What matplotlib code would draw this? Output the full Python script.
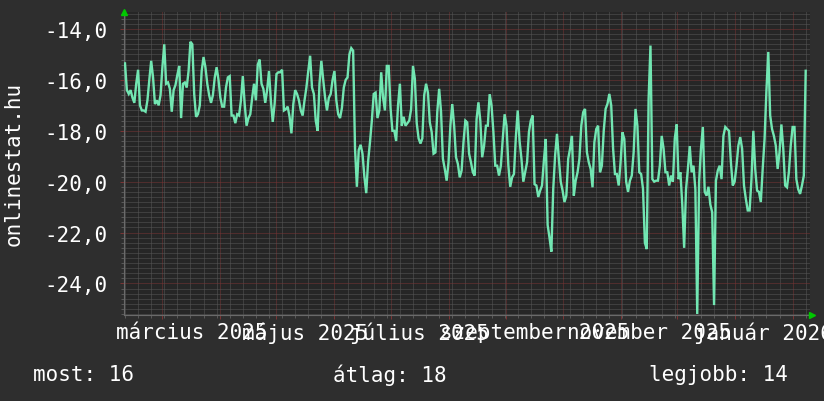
import matplotlib
matplotlib.use("Agg")
import matplotlib.pyplot as plt
import matplotlib.dates as mdates
import matplotlib.transforms as mtransforms
from matplotlib.ticker import MultipleLocator, FixedLocator, NullFormatter
import pandas as pd
import numpy as np

# ---------------- data ----------------
start_date = "2025-02-09"
rank_values = [
    -15.35, -16.4, -16.55, -16.4, -16.7, -16.9, -16.15,
    -15.6, -17.0, -17.2, -17.2, -17.25, -16.8, -16.0,
    -15.25, -15.9, -16.95, -16.8, -17.0, -16.6, -15.5,
    -14.6, -16.15, -16.1, -16.35, -17.25, -16.4, -16.2,
    -15.8, -15.45, -17.5, -16.15, -16.1, -16.3, -15.65,
    -14.5, -14.6, -16.55, -17.45, -17.35, -17.0, -15.65,
    -15.1, -15.5, -16.15, -16.6, -16.9, -16.6, -15.9,
    -15.5, -16.0, -16.7, -17.05, -17.05, -16.3, -15.9,
    -15.85, -17.4, -17.4, -17.7, -17.35, -17.4, -16.8,
    -15.85, -16.95, -17.8, -17.5, -17.35, -16.7, -16.15,
    -16.8, -15.4, -15.2, -16.15, -16.35, -16.9, -16.4,
    -15.65, -16.8, -17.65, -16.95, -15.77, -15.7, -15.7,
    -15.6, -17.2, -17.15, -17.05, -17.45, -18.1, -16.95,
    -16.4, -16.55, -16.8, -17.2, -17.4, -16.8, -16.3,
    -15.65, -15.05, -16.3, -16.55, -17.6, -18.0, -16.15,
    -15.25, -16.0, -16.7, -17.2, -16.7, -16.55, -16.0,
    -15.65, -16.8, -17.35, -17.5, -17.1, -16.3, -16.0,
    -15.9, -15.0, -14.75, -14.85, -18.7, -20.2, -18.75,
    -18.55, -18.9, -19.8, -20.45, -19.2, -18.45, -17.6,
    -16.55, -16.5, -17.5, -17.2, -15.7, -16.7, -17.2,
    -15.45, -15.45, -17.1, -18.0, -18.0, -18.4, -17.0,
    -16.15, -17.8, -17.45, -17.8, -17.7, -17.6, -17.15,
    -15.45, -15.96, -17.7, -18.3, -18.5, -18.3, -16.6,
    -16.15, -16.5, -17.67, -18.05, -18.9, -18.85, -17.25,
    -16.35, -17.25, -19.1, -19.5, -19.96, -19.24, -17.8,
    -16.95, -17.8, -19.04, -19.3, -19.83, -19.56, -18.45,
    -17.6, -17.67, -18.9, -19.24, -19.63, -19.76, -17.54,
    -16.88, -17.6, -19.04, -18.6, -17.8, -17.8, -16.56,
    -17.0, -18.05, -19.37, -19.37, -19.76, -19.37, -18.32,
    -17.35, -17.8, -19.37, -20.2, -19.83, -19.7, -18.25,
    -17.2, -18.4, -19.1, -20.0, -19.63, -19.24, -18.05,
    -17.6, -17.4, -20.1, -20.15, -20.6, -20.35, -20.15,
    -19.17, -18.32, -21.7, -22.2, -22.75, -20.28, -18.97,
    -18.12, -19.1, -20.0, -20.35, -20.8, -20.55, -19.1,
    -18.7, -18.2, -20.55, -19.96, -19.63, -19.1, -17.8,
    -17.27, -17.14, -18.84, -19.24, -19.5, -20.22, -18.45,
    -17.93, -17.8, -19.63, -19.37, -18.0, -17.14, -16.94,
    -16.55, -17.0, -18.7, -19.7, -19.7, -20.15, -19.24,
    -18.06, -18.32, -20.0, -20.4, -19.96, -19.76, -18.84,
    -17.14, -17.8, -19.63, -19.7, -20.28, -22.4, -22.65,
    -16.75, -14.65, -19.9, -20.0, -19.96, -19.96, -19.37,
    -18.2, -18.7, -19.63, -19.63, -20.15, -19.76, -20.0,
    -18.3, -17.75, -19.9, -19.63, -20.9, -22.6, -20.3,
    -19.5, -18.6, -19.63, -19.37, -20.3, -25.2, -20.0,
    -18.7, -17.85, -20.4, -20.55, -20.2, -20.9, -21.2,
    -24.85, -19.96, -19.56, -19.37, -19.9, -18.2, -17.85,
    -17.93, -18.0, -19.24, -20.15, -20.0, -19.37, -18.58,
    -18.25, -18.7, -20.15, -20.68, -21.13, -21.13, -19.9,
    -18.0, -19.5, -20.35, -20.4, -20.8, -19.5, -18.32,
    -16.42, -14.9, -17.4, -17.93, -18.2, -18.58, -19.5,
    -18.84, -17.75, -18.7, -20.15, -20.22, -19.63, -18.58,
    -17.85, -17.85, -19.9, -20.3, -20.48, -20.15, -19.76,
    -15.64,
]
y_ticks = [-24, -22, -20, -18, -16, -14]
y_tick_labels = ["-24,0", "-22,0", "-20,0", "-18,0", "-16,0", "-14,0"]
x_label_months = ["2025-03-01", "2025-05-01", "2025-07-01", "2025-09-01", "2025-11-01", "2026-01-01"]
x_labels = ["március 2025", "május 2025", "július 2025", "szeptember 2025", "november 2025", "január 2026"]
y_title = "onlinestat.hu"
summary_texts = ["most: 16", "átlag: 18", "legjobb: 14"]

# ---------------- style ----------------
W, H = 824, 402
BG = "#2e2e2e"
PLOT_BG = "#262626"
LINE = "#72e6b2"
MINOR = "#585858"
MAJOR = "#7a3434"
TXT = "#ffffff"
FONT = "DejaVu Sans Mono"
FS = 15

fig = plt.figure(figsize=(W / 100, H / 100), dpi=100, facecolor=BG)
L, R, T, B = 124, 810, 13, 316
ax = fig.add_axes([L / W, 1 - B / H, (R - L) / W, (B - T) / H])
ax.set_facecolor(PLOT_BG)

dates = pd.date_range(start_date, periods=len(rank_values), freq="D")
ax.plot(dates, rank_values, color=LINE, lw=1.7, solid_joinstyle="miter", zorder=3)

x0 = pd.Timestamp(start_date) - pd.Timedelta(hours=12.8)
x1 = pd.Timestamp(start_date) + pd.Timedelta(days=366.3)
ax.set_xlim(x0, x1)
ax.set_ylim(-25.24, -13.33)

# grids
ax.xaxis.set_major_locator(mdates.MonthLocator())
ax.xaxis.set_minor_locator(mdates.WeekdayLocator(byweekday=mdates.SU))
ax.xaxis.set_major_formatter(NullFormatter())
ax.xaxis.set_minor_formatter(NullFormatter())
ax.yaxis.set_major_locator(FixedLocator(y_ticks))
ax.yaxis.set_minor_locator(MultipleLocator(0.2))
ax.set_yticklabels(y_tick_labels)

ax.grid(which="minor", color=MINOR, lw=0.72, ls=(0, (1, 1)))
ax.grid(which="major", color=MAJOR, lw=0.72, ls=(0, (1, 1)))
ax.set_axisbelow(True)

ax.tick_params(axis="both", which="minor", length=2, color=MINOR, width=0.72)
ax.tick_params(axis="both", which="major", length=3, color=MAJOR, width=0.72)
ax.tick_params(axis="y", which="major", labelcolor=TXT, labelsize=FS, pad=9)
for lab in ax.get_yticklabels():
    lab.set_fontfamily(FONT)

for s in ["top", "right"]:
    ax.spines[s].set_visible(False)
for s in ["left", "bottom"]:
    ax.spines[s].set_color("#6a6a6a")
    ax.spines[s].set_linewidth(0.8)

# x labels centred on the middle of the month
trans = mtransforms.blended_transform_factory(ax.transData, ax.transAxes)
for m, lab in zip(x_label_months, x_labels):
    ms = pd.Timestamp(m)
    me = ms + pd.offsets.MonthBegin(1)
    mid = ms + (me - ms) / 2
    ax.text(mdates.date2num(mid), -0.056, lab, transform=trans, ha="center", va="center",
            color=TXT, fontsize=FS, fontfamily=FONT, clip_on=False)

# arrows
ax.plot([0], [1.0], marker="^", color="#00c800", ms=4, transform=ax.transAxes, clip_on=False, zorder=5)
ax.plot([1.003], [0], marker=">", color="#00c800", ms=4, transform=ax.transAxes, clip_on=False, zorder=5)

# y title
fig.text(14 / W, 1 - 164 / H, y_title, rotation=90, ha="center", va="center",
         color=TXT, fontsize=FS, fontfamily=FONT)

# summary
for txt, xpx in zip(summary_texts, [33, 333, 649]):
    fig.text(xpx / W, 1 - 375 / H, txt, ha="left", va="center", color=TXT,
             fontsize=FS, fontfamily=FONT)

fig.savefig("out.png", dpi=100, facecolor=BG)
